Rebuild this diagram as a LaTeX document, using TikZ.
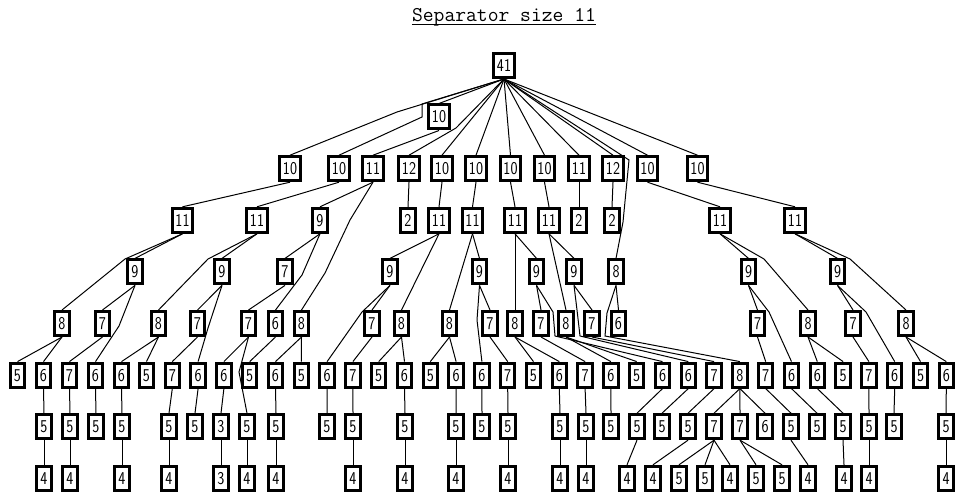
\documentclass[tikz,border=0pt]{standalone}
\usepackage{fontspec}
\setsansfont{Latin Modern Sans}[FakeStretch=0.83]
\tikzset{
    sepbox/.style={draw, line width=3pt, fill=white, minimum height=24pt, minimum width=14.5pt,
        inner xsep=3pt, inner ysep=0pt, text height=11.8pt, text depth=0pt,
        font=\sffamily\fontsize{18}{18}\selectfont},
    link/.style={line width=1pt},
}

\begin{document}
\begin{tikzpicture}[x=1pt, y=-1pt]
    \useasboundingbox (0,0) rectangle (957,494);

    % title
    \node[anchor=base, inner sep=0pt, font=\ttfamily\fontsize{21}{21}\selectfont] (title) at (504,21.5) {Separator size 11};
    \draw[line width=1.3pt] ([yshift=-3pt]title.base west) -- ([yshift=-3pt]title.base east);

    % root
    \node[sepbox] (r0) at (504,65.5) {41};
    \node[sepbox] (rh) at (439,117) {10};

    % row 1
    \node[sepbox] (r1-1) at (290,168.7) {10};
    \node[sepbox] (r1-2) at (339,168.7) {10};
    \node[sepbox] (r1-3) at (373,168.7) {11};
    \node[sepbox] (r1-4) at (409,168.7) {12};
    \node[sepbox] (r1-5) at (442,168.7) {10};
    \node[sepbox] (r1-6) at (476,168.7) {10};
    \node[sepbox] (r1-7) at (510.5,168.7) {10};
    \node[sepbox] (r1-8) at (544.5,168.7) {10};
    \node[sepbox] (r1-9) at (579,168.7) {11};
    \node[sepbox] (r1-10) at (613,168.7) {12};
    \node[sepbox] (r1-11) at (647.5,168.7) {10};
    \node[sepbox] (r1-12) at (697.5,168.7) {10};

    % row 2
    \node[sepbox] (r2-1) at (182.5,220.3) {11};
    \node[sepbox] (r2-2) at (257,220.3) {11};
    \node[sepbox] (r2-3) at (320,220.3) {9};
    \node[sepbox] (r2-4) at (408,220.3) {2};
    \node[sepbox] (r2-5) at (439,220.3) {11};
    \node[sepbox] (r2-6) at (472.5,220.3) {11};
    \node[sepbox] (r2-7) at (515,220.3) {11};
    \node[sepbox] (r2-8) at (549,220.3) {11};
    \node[sepbox] (r2-9) at (579,220.3) {2};
    \node[sepbox] (r2-10) at (612,220.3) {2};
    \node[sepbox] (r2-11) at (720,220.3) {11};
    \node[sepbox] (r2-12) at (795,220.3) {11};

    % row 3
    \node[sepbox] (r3-1) at (135,271.9) {9};
    \node[sepbox] (r3-2) at (222,271.9) {9};
    \node[sepbox] (r3-3) at (285,271.9) {7};
    \node[sepbox] (r3-4) at (390,271.9) {9};
    \node[sepbox] (r3-5) at (479.5,271.9) {9};
    \node[sepbox] (r3-6) at (536.5,271.9) {9};
    \node[sepbox] (r3-7) at (574,271.9) {9};
    \node[sepbox] (r3-8) at (616,271.9) {8};
    \node[sepbox] (r3-9) at (748.5,271.9) {9};
    \node[sepbox] (r3-10) at (837.5,271.9) {9};

    % row 4
    \node[sepbox] (r4-1) at (62,323.5) {8};
    \node[sepbox] (r4-2) at (102.5,323.5) {7};
    \node[sepbox] (r4-3) at (158.5,323.5) {8};
    \node[sepbox] (r4-4) at (197.5,323.5) {7};
    \node[sepbox] (r4-5) at (248.5,323.5) {7};
    \node[sepbox] (r4-6) at (275.5,323.5) {6};
    \node[sepbox] (r4-7) at (301.5,323.5) {8};
    \node[sepbox] (r4-8) at (372,323.5) {7};
    \node[sepbox] (r4-9) at (401.5,323.5) {8};
    \node[sepbox] (r4-10) at (449.5,323.5) {8};
    \node[sepbox] (r4-11) at (490,323.5) {7};
    \node[sepbox] (r4-12) at (515,323.5) {8};
    \node[sepbox] (r4-13) at (541,323.5) {7};
    \node[sepbox] (r4-14) at (566,323.5) {8};
    \node[sepbox] (r4-15) at (592,323.5) {7};
    \node[sepbox] (r4-16) at (618.5,323.5) {6};
    \node[sepbox] (r4-17) at (757.5,323.5) {7};
    \node[sepbox] (r4-18) at (808,323.5) {8};
    \node[sepbox] (r4-19) at (853,323.5) {7};
    \node[sepbox] (r4-20) at (906,323.5) {8};

    % row 5
    \node[sepbox] (r5-1) at (17.5,375.1) {5};
    \node[sepbox] (r5-2) at (43.5,375.1) {6};
    \node[sepbox] (r5-3) at (69.5,375.1) {7};
    \node[sepbox] (r5-4) at (95.5,375.1) {6};
    \node[sepbox] (r5-5) at (121.5,375.1) {6};
    \node[sepbox] (r5-6) at (146.5,375.1) {5};
    \node[sepbox] (r5-7) at (172.3,375.1) {7};
    \node[sepbox] (r5-8) at (198.1,375.1) {6};
    \node[sepbox] (r5-9) at (223.9,375.1) {6};
    \node[sepbox] (r5-10) at (249.7,375.1) {5};
    \node[sepbox] (r5-11) at (275.5,375.1) {6};
    \node[sepbox] (r5-12) at (301.3,375.1) {5};
    \node[sepbox] (r5-13) at (327.1,375.1) {6};
    \node[sepbox] (r5-14) at (352.9,375.1) {7};
    \node[sepbox] (r5-15) at (378.7,375.1) {5};
    \node[sepbox] (r5-16) at (404.5,375.1) {6};
    \node[sepbox] (r5-17) at (430.3,375.1) {5};
    \node[sepbox] (r5-18) at (456.1,375.1) {6};
    \node[sepbox] (r5-19) at (481.9,375.1) {6};
    \node[sepbox] (r5-20) at (507.7,375.1) {7};
    \node[sepbox] (r5-21) at (533.5,375.1) {5};
    \node[sepbox] (r5-22) at (559.3,375.1) {6};
    \node[sepbox] (r5-23) at (585.1,375.1) {7};
    \node[sepbox] (r5-24) at (610.9,375.1) {6};
    \node[sepbox] (r5-25) at (636.7,375.1) {5};
    \node[sepbox] (r5-26) at (662.5,375.1) {6};
    \node[sepbox] (r5-27) at (688.3,375.1) {6};
    \node[sepbox] (r5-28) at (714.1,375.1) {7};
    \node[sepbox] (r5-29) at (739.9,375.1) {8};
    \node[sepbox] (r5-30) at (765.7,375.1) {7};
    \node[sepbox] (r5-31) at (791.5,375.1) {6};
    \node[sepbox] (r5-32) at (817.3,375.1) {6};
    \node[sepbox] (r5-33) at (843.1,375.1) {5};
    \node[sepbox] (r5-34) at (868.9,375.1) {7};
    \node[sepbox] (r5-35) at (894.7,375.1) {6};
    \node[sepbox] (r5-36) at (920.5,375.1) {5};
    \node[sepbox] (r5-37) at (946.3,375.1) {6};

    % row 6
    \node[sepbox] (r6-1) at (44,426.7) {5};
    \node[sepbox] (r6-2) at (70,426.7) {5};
    \node[sepbox] (r6-3) at (96,426.7) {5};
    \node[sepbox] (r6-4) at (122,426.7) {5};
    \node[sepbox] (r6-5) at (169,426.7) {5};
    \node[sepbox] (r6-6) at (195,426.7) {5};
    \node[sepbox] (r6-7) at (221,426.7) {3};
    \node[sepbox] (r6-8) at (247,426.7) {5};
    \node[sepbox] (r6-9) at (276,426.7) {5};
    \node[sepbox] (r6-10) at (327,426.7) {5};
    \node[sepbox] (r6-11) at (353,426.7) {5};
    \node[sepbox] (r6-12) at (405,426.7) {5};
    \node[sepbox] (r6-13) at (456,426.7) {5};
    \node[sepbox] (r6-14) at (482,426.7) {5};
    \node[sepbox] (r6-15) at (508,426.7) {5};
    \node[sepbox] (r6-16) at (560,426.7) {5};
    \node[sepbox] (r6-17) at (586,426.7) {5};
    \node[sepbox] (r6-18) at (611,426.7) {5};
    \node[sepbox] (r6-19) at (637,426.7) {5};
    \node[sepbox] (r6-20) at (662,426.7) {5};
    \node[sepbox] (r6-21) at (688,426.7) {5};
    \node[sepbox] (r6-22) at (714,426.7) {7};
    \node[sepbox] (r6-23) at (740,426.7) {7};
    \node[sepbox] (r6-24) at (765,426.7) {6};
    \node[sepbox] (r6-25) at (791,426.7) {5};
    \node[sepbox] (r6-26) at (817,426.7) {5};
    \node[sepbox] (r6-27) at (843,426.7) {5};
    \node[sepbox] (r6-28) at (869,426.7) {5};
    \node[sepbox] (r6-29) at (894,426.7) {5};
    \node[sepbox] (r6-30) at (946,426.7) {5};

    % row 7
    \node[sepbox] (r7-1) at (44,478.3) {4};
    \node[sepbox] (r7-2) at (70,478.3) {4};
    \node[sepbox] (r7-3) at (122,478.3) {4};
    \node[sepbox] (r7-4) at (169,478.3) {4};
    \node[sepbox] (r7-5) at (221,478.3) {3};
    \node[sepbox] (r7-6) at (247,478.3) {4};
    \node[sepbox] (r7-7) at (276,478.3) {4};
    \node[sepbox] (r7-8) at (353,478.3) {4};
    \node[sepbox] (r7-9) at (405,478.3) {4};
    \node[sepbox] (r7-10) at (456,478.3) {4};
    \node[sepbox] (r7-11) at (508,478.3) {4};
    \node[sepbox] (r7-12) at (560,478.3) {4};
    \node[sepbox] (r7-13) at (586,478.3) {4};
    \node[sepbox] (r7-14) at (627,478.3) {4};
    \node[sepbox] (r7-15) at (653,478.3) {4};
    \node[sepbox] (r7-16) at (679,478.3) {5};
    \node[sepbox] (r7-17) at (705,478.3) {5};
    \node[sepbox] (r7-18) at (730,478.3) {4};
    \node[sepbox] (r7-19) at (756,478.3) {5};
    \node[sepbox] (r7-20) at (782,478.3) {5};
    \node[sepbox] (r7-21) at (808,478.3) {4};
    \node[sepbox] (r7-22) at (844,478.3) {4};
    \node[sepbox] (r7-23) at (869,478.3) {4};
    \node[sepbox] (r7-24) at (946,478.3) {4};

    % links from the root
    \draw[link] (r0.south) -- (rh.north);
    \draw[link] (r0.south) -- (397,112) -- (r1-1.north);
    \draw[link] (r0.south) -- (422,104) -- (422,117) -- (r1-2.north);
    \draw[link] (rh.south) -- (r1-3.north);
    \draw[link] (r0.south) -- (456,128) -- (r1-4.north);
    \draw[link] (r0.south) -- (r1-5.north);
    \draw[link] (r0.south) -- (r1-6.north);
    \draw[link] (r0.south) -- (r1-7.north);
    \draw[link] (r0.south) -- (r1-8.north);
    \draw[link] (r0.south) -- (r1-9.north);
    \draw[link] (r0.south) -- (r1-10.north);
    \draw[link] (r0.south) -- (r1-11.north);
    \draw[link] (r0.south) -- (r1-12.north);
    \draw[link] (r0.south) -- (629,160) -- (623,222) -- (r3-8.north);

    % row 1 to row 2
    \draw[link] (r1-1.south) -- (r2-1.north);
    \draw[link] (r1-2.south) -- (r2-2.north);
    \draw[link] (r1-3.south) -- (r2-3.north);
    \draw[link] (r1-3.south) -- (350,220) -- (325,273) -- (r4-7.north);
    \draw[link] (r1-4.south) -- (r2-4.north);
    \draw[link] (r1-5.south) -- (r2-5.north);
    \draw[link] (r1-6.south) -- (r2-6.north);
    \draw[link] (r1-7.south) -- (r2-7.north);
    \draw[link] (r1-8.south) -- (r2-8.north);
    \draw[link] (r1-9.south) -- (r2-9.north);
    \draw[link] (r1-10.south) -- (r2-10.north);
    \draw[link] (r1-11.south) -- (r2-11.north);
    \draw[link] (r1-12.south) -- (r2-12.north);

    % row 2 to row 3
    \draw[link] (r2-1.south) -- (r3-1.north);
    \draw[link] (r2-1.south) -- (125,259) -- (r4-1.north);
    \draw[link] (r2-2.south) -- (r3-2.north);
    \draw[link] (r2-2.south) -- (208,259) -- (r4-3.north);
    \draw[link] (r2-3.south) -- (r3-3.north);
    \draw[link] (r2-3.south) -- (302,275) -- (r4-6.north);
    \draw[link] (r2-5.south) -- (r3-4.north);
    \draw[link] (r2-5.south) -- (r4-9.north);
    \draw[link] (r2-6.south) -- (r3-5.north);
    \draw[link] (r2-6.south) -- (r4-10.north);
    \draw[link] (r2-7.south) -- (r3-6.north);
    \draw[link] (r2-7.south) -- (r4-12.north);
    \draw[link] (r2-8.south) -- (r3-7.north);
    \draw[link] (r2-8.south) -- (r4-14.north);
    \draw[link] (r2-11.south) -- (r3-9.north);
    \draw[link] (r2-11.south) -- (764,259) -- (r4-18.north);
    \draw[link] (r2-12.south) -- (r3-10.north);
    \draw[link] (r2-12.south) -- (850,259) -- (r4-20.north);

    % row 3 to row 4
    \draw[link] (r3-1.south) -- (r4-2.north);
    \draw[link] (r3-1.south) -- (119,326) -- (r5-4.north);
    \draw[link] (r3-2.south) -- (r4-4.north);
    \draw[link] (r3-2.south) -- (208,328) -- (r5-8.north);
    \draw[link] (r3-3.south) -- (r4-5.north);
    \draw[link] (r3-4.south) -- (r4-8.north);
    \draw[link] (r3-4.south) -- (362,312) -- (r5-13.north);
    \draw[link] (r3-5.south) -- (r4-11.north);
    \draw[link] (r3-5.south) -- (477,320) -- (r5-19.north);
    \draw[link] (r3-6.south) -- (r4-13.north);
    \draw[link] (r3-6.south) -- (553,312) -- (555,336) -- (r5-26.north);
    \draw[link] (r3-7.south) -- (r4-15.north);
    \draw[link] (r3-7.south) -- (577,310) -- (580,336) -- (r5-27.north);
    \draw[link] (r3-8.south) -- (r4-16.north);
    \draw[link] (r3-8.south) -- (607,313) -- (605,336) -- (r5-29.north);
    \draw[link] (r3-9.south) -- (r4-17.north);
    \draw[link] (r3-9.south) -- (769,312) -- (r5-31.north);
    \draw[link] (r3-10.south) -- (r4-19.north);
    \draw[link] (r3-10.south) -- (866,312) -- (r5-35.north);

    % row 4 to row 5
    \draw[link] (r4-1.south) -- (r5-1.north);
    \draw[link] (r4-1.south) -- (r5-2.north);
    \draw[link] (r4-2.south) -- (r5-3.north);
    \draw[link] (r4-3.south) -- (r5-5.north);
    \draw[link] (r4-3.south) -- (r5-6.north);
    \draw[link] (r4-4.south) -- (r5-7.north);
    \draw[link] (r4-5.south) -- (r5-9.north);
    \draw[link] (r4-5.south) -- (239,372) -- (r6-8.north);
    \draw[link] (r4-6.south) -- (r5-10.north);
    \draw[link] (r4-7.south) -- (r5-11.north);
    \draw[link] (r4-7.south) -- (r5-12.north);
    \draw[link] (r4-8.south) -- (r5-14.north);
    \draw[link] (r4-9.south) -- (r5-15.north);
    \draw[link] (r4-9.south) -- (r5-16.north);
    \draw[link] (r4-10.south) -- (r5-17.north);
    \draw[link] (r4-10.south) -- (r5-18.north);
    \draw[link] (r4-11.south) -- (r5-20.north);
    \draw[link] (r4-12.south) -- (r5-21.north);
    \draw[link] (r4-12.south) -- (r5-22.north);
    \draw[link] (r4-13.south) -- (r5-23.north);
    \draw[link] (r4-14.south) -- (r5-24.north);
    \draw[link] (r4-14.south) -- (r5-25.north);
    \draw[link] (r4-15.south) -- (r5-28.north);
    \draw[link] (r4-17.south) -- (r5-30.north);
    \draw[link] (r4-18.south) -- (r5-32.north);
    \draw[link] (r4-18.south) -- (r5-33.north);
    \draw[link] (r4-19.south) -- (r5-34.north);
    \draw[link] (r4-20.south) -- (r5-36.north);
    \draw[link] (r4-20.south) -- (r5-37.north);

    % row 5 to row 6
    \draw[link] (r5-2.south) -- (r6-1.north);
    \draw[link] (r5-3.south) -- (r6-2.north);
    \draw[link] (r5-4.south) -- (r6-3.north);
    \draw[link] (r5-5.south) -- (r6-4.north);
    \draw[link] (r5-7.south) -- (r6-5.north);
    \draw[link] (r5-8.south) -- (r6-6.north);
    \draw[link] (r5-9.south) -- (r6-7.north);
    \draw[link] (r5-11.south) -- (r6-9.north);
    \draw[link] (r5-13.south) -- (r6-10.north);
    \draw[link] (r5-14.south) -- (r6-11.north);
    \draw[link] (r5-16.south) -- (r6-12.north);
    \draw[link] (r5-18.south) -- (r6-13.north);
    \draw[link] (r5-19.south) -- (r6-14.north);
    \draw[link] (r5-20.south) -- (r6-15.north);
    \draw[link] (r5-22.south) -- (r6-16.north);
    \draw[link] (r5-23.south) -- (r6-17.north);
    \draw[link] (r5-24.south) -- (r6-18.north);
    \draw[link] (r5-26.south) -- (r6-19.north);
    \draw[link] (r5-27.south) -- (r6-20.north);
    \draw[link] (r5-28.south) -- (r6-21.north);
    \draw[link] (r5-29.south) -- (r6-22.north);
    \draw[link] (r5-29.south) -- (r6-23.north);
    \draw[link] (r5-29.south) -- (r6-24.north);
    \draw[link] (r5-30.south) -- (r6-25.north);
    \draw[link] (r5-31.south) -- (r6-26.north);
    \draw[link] (r5-32.south) -- (r6-27.north);
    \draw[link] (r5-34.south) -- (r6-28.north);
    \draw[link] (r5-35.south) -- (r6-29.north);
    \draw[link] (r5-37.south) -- (r6-30.north);

    % row 6 to row 7
    \draw[link] (r6-1.south) -- (r7-1.north);
    \draw[link] (r6-2.south) -- (r7-2.north);
    \draw[link] (r6-4.south) -- (r7-3.north);
    \draw[link] (r6-5.south) -- (r7-4.north);
    \draw[link] (r6-7.south) -- (r7-5.north);
    \draw[link] (r6-8.south) -- (r7-6.north);
    \draw[link] (r6-9.south) -- (r7-7.north);
    \draw[link] (r6-11.south) -- (r7-8.north);
    \draw[link] (r6-12.south) -- (r7-9.north);
    \draw[link] (r6-13.south) -- (r7-10.north);
    \draw[link] (r6-15.south) -- (r7-11.north);
    \draw[link] (r6-16.south) -- (r7-12.north);
    \draw[link] (r6-17.south) -- (r7-13.north);
    \draw[link] (r6-19.south) -- (r7-14.north);
    \draw[link] (r6-21.south) -- (r7-15.north);
    \draw[link] (r6-22.south) -- (r7-16.north);
    \draw[link] (r6-22.south) -- (r7-17.north);
    \draw[link] (r6-22.south) -- (r7-18.north);
    \draw[link] (r6-23.south) -- (r7-19.north);
    \draw[link] (r6-23.south) -- (r7-20.north);
    \draw[link] (r6-25.south) -- (r7-21.north);
    \draw[link] (r6-27.south) -- (r7-22.north);
    \draw[link] (r6-28.south) -- (r7-23.north);
    \draw[link] (r6-30.south) -- (r7-24.north);
\end{tikzpicture}
\end{document}
